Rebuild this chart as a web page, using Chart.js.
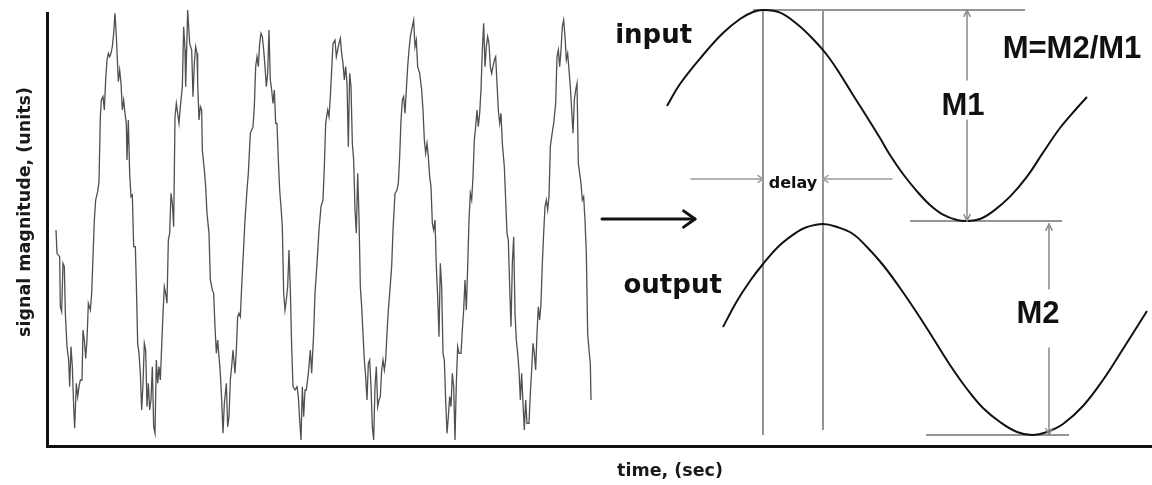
<!DOCTYPE html>
<html>
<head>
<meta charset="utf-8">
<script src="https://cdn.jsdelivr.net/npm/chart.js@4.4.1/dist/chart.umd.min.js"></script>
<style>
  html, body { margin: 0; padding: 0; background: #fff; }
  #wrap { width: 1152px; height: 485px; }
</style>
</head>
<body>
<div id="wrap"><canvas id="c" width="1152" height="485"></canvas></div>
<script>
// Sampled noisy signal: time (ms) and magnitude (units)
const signalTime = [
  27,30,38,40,44,48,52,55,60,65,
  68,72,76,80,83,88,92,96,100,105,
  108,112,116,120,124,130,134,138,142,146,
  152,156,160,163,168,172,176,180,184,188,
  192,196,200,204,208,212,214,218,222,226,
  230,234,238,240,244,248,252,256,260,265,
  268,272,276,280,284,288,292,296,300,304,
  308,312,316,320,324,328,332,336,340,344,
  348,352,356,360,364,368,372,376,380,384,
  388,392,396,400,406,410,414,416,422,428,
  434,438,442,446,450,452,456,460,464,466,
  472,476,480,486,490,496,500,504,508,512,
  516,520,524,528,532,538,542,546,550,554,
  558,564,568,572,576,580,584,590,594,600,
  604,610,614,618,622,626,630,634,638,642,
  646,650,654,658,662,666,670,674,678,682,
  686,690,694,698,702,706,710,714,718,722,
  726,730,734,738,744,750,754,758,762,766,
  770,774,778,784,790,794,800,804,810,816,
  822,828,832,836,842,846,850,854,858,864,
  868,872,876,880,884,888,892,896,900,904,
  908,912,916,920,924,928,932,936,940,944,
  948,952,956,960,964,968,972,976,980,984,
  988,992,996,1000,1004,1008,1012,1016,1020,1024,
  1028,1034,1038,1044,1050,1054,1058,1062,1066,1070,
  1074,1078,1082,1086,1090,1096,1100,1104,1108,1112,
  1118,1124,1128,1132,1136,1140,1144,1148,1152,1156,
  1160,1164,1168,1172,1176,1180,1184,1188,1192,1196,
  1200,1204,1208,1212,1216,1220,1224,1228,1232,1236,
  1242,1246,1250,1254,1258,1262,1266,1270,1274,1278,
  1282,1286,1290,1294,1298,1302,1306,1310,1314,1318,
  1322,1326,1330,1334,1338,1342,1346,1350,1354,1358,
  1362,1366,1372,1376,1380,1384,1388,1392,1396,1400,
  1404,1408,1412,1416,1420,1424,1428,1432,1436,1440,
  1446,1450,1454,1458,1462,1466,1470,1474,1478,1482,
  1486,1490,1494,1498,1502,1506,1510,1514,1520,1526,
  1530,1534,1538,1542,1546,1550,1554,1558,1562,1566,
  1570,1574,1578,1582,1586,1590,1594,1598,1602,1606,
  1610,1614,1618,1622,1626,1630,1632
];
const signalValue = [
  648,578,568,418,403,548,538,398,298,258,
  178,298,238,118,53,188,148,178,198,198,
  348,318,263,318,428,408,458,568,678,738,
  763,793,988,1038,1048,1008,1098,1158,1178,1168,
  1178,1198,1238,1298,1228,1138,1093,1128,1088,1008,
  1038,998,968,858,978,818,748,753,598,598,
  488,308,278,218,108,188,308,288,118,188,
  108,138,238,58,38,258,188,238,198,298,
  398,478,458,428,618,638,758,728,658,988,
  1028,998,968,1018,1078,1258,1188,1078,1308,1208,
  1188,1048,1148,1198,1178,1088,978,1018,1008,888,
  828,778,698,638,498,468,458,358,278,318,
  268,218,138,38,128,188,58,88,198,238,
  288,218,288,388,398,388,478,598,678,768,
  818,938,948,958,1018,1138,1168,1138,1208,1238,
  1228,1188,1138,1078,1118,1248,1098,1068,1028,1068,
  968,968,858,768,718,658,458,408,438,478,
  588,468,298,178,168,178,148,78,18,178,
  88,168,168,218,288,218,338,458,548,648,
  718,738,838,968,1008,988,1048,1128,1208,1218,
  1168,1188,1208,1223,1178,1148,1098,1138,1088,898,
  1118,1078,908,858,708,638,818,688,478,418,
  338,258,208,138,248,258,178,58,18,178,
  238,118,138,148,228,258,228,258,338,408,
  458,538,648,758,768,788,868,978,1038,1048,
  998,1068,1138,1188,1228,1258,1278,1198,1218,1138,
  1118,1068,1008,918,878,908,868,808,778,668,
  648,678,538,448,328,548,478,278,258,138,
  38,88,148,118,218,178,18,188,298,278,
  278,348,408,498,408,538,678,758,738,808,
  918,958,1008,958,998,1068,1188,1268,1138,1198,
  1228,1208,1138,1118,1138,1158,1168,1088,1008,968,
  998,908,838,738,638,618,478,358,548,628,
  398,318,278,228,138,218,128,48,138,68,
  68,158,228,308,278,228,338,418,378,428,
  548,638,718,738,708,748,898,928,968,1028,
  1168,1188,1138,1188,1258,1278,1228,1158,1178,1128,
  1078,1008,938,1038,1068,1088,848,818,788,738,
  748,678,578,338,288,248,138
];

// Clean input sinusoid
const inputTime  = [1860,1899,1968,2028,2079,2118,2148,2199,2250,2298,2340,2379,2418,2460,2499,2529,2568,2610,2649,2688,2730,2760,2799,2838,2889,2940,2988,3039,3090,3120];
const inputValue = [1020,1086,1173,1239,1281,1302,1308,1300,1266,1221,1173,1116,1053,987,924,873,816,764,723,694,678,675,681,704,748,808,880,954,1014,1047];

// Delayed, attenuated output sinusoid
const outputTime  = [2028,2070,2109,2148,2199,2250,2280,2328,2370,2418,2460,2508,2559,2610,2658,2709,2760,2808,2859,2910,2955,3000,3048,3108,3168,3228,3300];
const outputValue = [357,435,495,546,603,642,657,666,657,636,597,543,474,399,324,243,171,114,72,42,33,42,66,120,198,291,405];

const axisTitles = { x: 'time, (sec)', y: 'signal magnitude, (units)' };

// Reference levels taken from the two curves
const inMax = Math.max(...inputValue), inMin = Math.min(...inputValue);
const outMax = Math.max(...outputValue), outMin = Math.min(...outputValue);
const inPeakT = inputTime[inputValue.indexOf(inMax)];
const inTroughT = inputTime[inputValue.indexOf(inMin)];
const outPeakT = outputTime[outputValue.indexOf(outMax)];

const pts = (xs, ys) => xs.map((t, i) => ({ x: t, y: ys[i] }));
const seg = (x1, y1, x2, y2) => [{ x: x1, y: y1 }, { x: x2, y: y2 }];

const GUIDE = '#959595';
const guide = (data, w) => ({
  data, borderColor: GUIDE, borderWidth: w || 2, pointRadius: 0, clip: false, order: 3
});

// Annotation layout (data units)
const arrowSpecs = [
  { from: [1665, 681], to: [1944, 681], color: '#111', width: 3, head: 14, spread: 0.62 },
  { from: [1932, 801], to: [inPeakT, 801], color: '#999', width: 1.5, head: 6, spread: 0.6 },
  { from: [2535, 801], to: [outPeakT, 801], color: '#999', width: 1.5, head: 6, spread: 0.6 },
  { from: [inTroughT, 1098], to: [inTroughT, inMax], color: '#8a8a8a', width: 1.5, head: 7, spread: 0.45 },
  { from: [inTroughT, 978], to: [inTroughT, inMin], color: '#8a8a8a', width: 1.5, head: 7, spread: 0.45 },
  { from: [3006, 471], to: [3006, outMax], color: '#8a8a8a', width: 1.5, head: 7, spread: 0.45 },
  { from: [3006, 294], to: [3006, outMin], color: '#8a8a8a', width: 1.5, head: 7, spread: 0.45 }
];

const notes = [
  { text: 'input',   x: 1820, y: 1209, font: 'bold 26px "DejaVu Sans"' },
  { text: 'output',  x: 1877, y: 459,  font: 'bold 26px "DejaVu Sans"' },
  { text: 'delay',   x: 2238, y: 774,  font: 'bold 16px "DejaVu Sans"' },
  { text: 'M1',      x: 2748, y: 993,  font: 'bold 31px "Liberation Sans"' },
  { text: 'M2',      x: 2973, y: 369,  font: 'bold 31px "Liberation Sans"' },
  { text: 'M=M2/M1', x: 3075, y: 1164, font: 'bold 31px "Liberation Sans"' }
];

const titleSpots = { x: { x: 1869, y: -90 }, y: { x: -52, y: 702 } };

const overlay = {
  id: 'overlay',
  afterDraw(chart) {
    const { ctx, scales: { x, y } } = chart;
    const X = v => x.getPixelForValue(v), Y = v => y.getPixelForValue(v);
    ctx.save();
    ctx.lineCap = 'round';
    ctx.lineJoin = 'round';
    arrowSpecs.forEach(a => {
      const x1 = X(a.from[0]), y1 = Y(a.from[1]), x2 = X(a.to[0]), y2 = Y(a.to[1]);
      ctx.strokeStyle = a.color;
      ctx.lineWidth = a.width;
      ctx.beginPath(); ctx.moveTo(x1, y1); ctx.lineTo(x2, y2); ctx.stroke();
      const ang = Math.atan2(y2 - y1, x2 - x1);
      ctx.beginPath();
      ctx.moveTo(x2 - a.head * Math.cos(ang - a.spread), y2 - a.head * Math.sin(ang - a.spread));
      ctx.lineTo(x2, y2);
      ctx.lineTo(x2 - a.head * Math.cos(ang + a.spread), y2 - a.head * Math.sin(ang + a.spread));
      ctx.stroke();
    });

    ctx.fillStyle = '#111';
    ctx.textAlign = 'center';
    ctx.textBaseline = 'alphabetic';
    notes.forEach(n => {
      ctx.font = n.font;
      ctx.fillText(n.text, X(n.x), Y(n.y));
    });

    ctx.font = 'bold 17.5px "DejaVu Sans"';
    ctx.fillStyle = '#1a1a1a';
    ctx.fillText(axisTitles.x, X(titleSpots.x.x), Y(titleSpots.x.y));
    ctx.translate(X(titleSpots.y.x), Y(titleSpots.y.y));
    ctx.rotate(-Math.PI / 2);
    ctx.fillText(axisTitles.y, 0, 0);
    ctx.restore();
  }
};

new Chart(document.getElementById('c'), {
  type: 'line',
  data: {
    datasets: [
      { data: pts(signalTime, signalValue), borderColor: '#505050', borderWidth: 1.3, pointRadius: 0, tension: 0, clip: false, order: 1 },
      { data: pts(inputTime, inputValue), borderColor: '#111', borderWidth: 2, pointRadius: 0, tension: 0.4, clip: false, order: 1 },
      { data: pts(outputTime, outputValue), borderColor: '#111', borderWidth: 2, pointRadius: 0, tension: 0.4, clip: false, order: 1 },
      guide(seg(2118, inMax, 2934, inMax)),
      guide(seg(2589, inMin, 3045, inMin)),
      guide(seg(2637, outMin, 3066, outMin)),
      guide(seg(inPeakT, inMax, inPeakT, outMin)),
      guide(seg(outPeakT, inMax, outPeakT, 48))
    ]
  },
  options: {
    responsive: false,
    animation: false,
    events: [],
    layout: { padding: { left: 47, top: 13, right: 0, bottom: 39 } },
    plugins: { legend: { display: false }, tooltip: { enabled: false } },
    scales: {
      x: {
        type: 'linear', min: 0, max: 3315,
        grid: { display: false }, ticks: { display: false },
        border: { display: true, color: '#111', width: 3 },
        afterFit: s => { s.height = 0; }
      },
      y: {
        type: 'linear', min: 0, max: 1299,
        grid: { display: false }, ticks: { display: false },
        border: { display: true, color: '#111', width: 3 },
        afterFit: s => { s.width = 0; }
      }
    }
  },
  plugins: [overlay]
});
</script>
</body>
</html>
